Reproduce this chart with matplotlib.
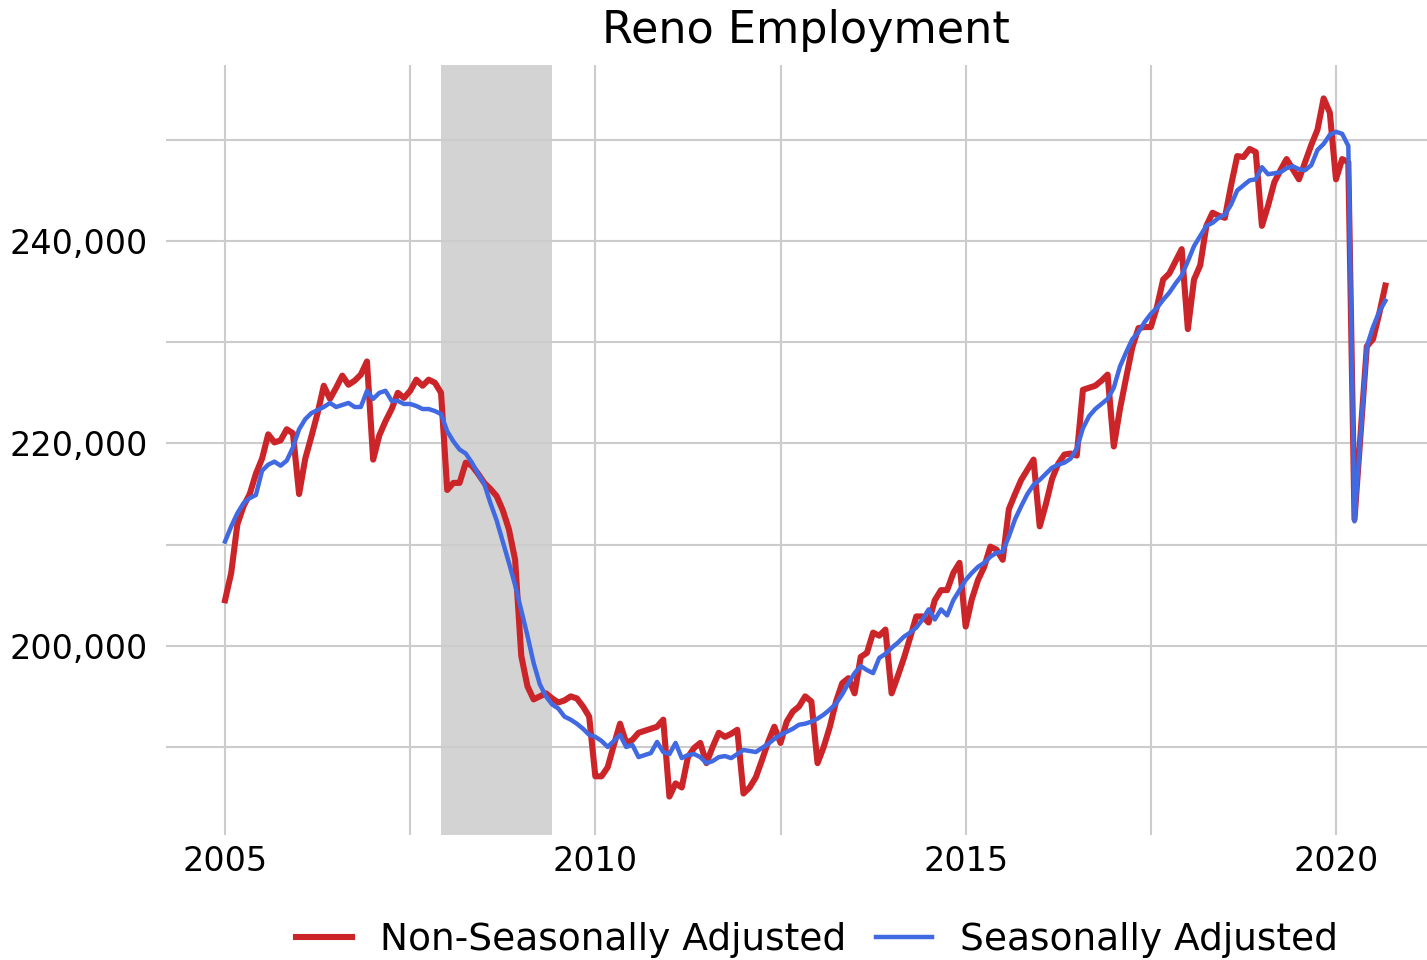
import matplotlib
matplotlib.use("Agg")
import matplotlib.pyplot as plt
from matplotlib.ticker import FuncFormatter
import numpy as np
import pandas as pd

# monthly employment, thousands (Jan 2005 - Sep 2020)
nsa_k = [
    204.5, 207.2, 212.0, 213.8, 215.0, 217.0, 218.5, 220.9, 220.1, 220.3, 221.4, 221.0,  # 2005
    215.0, 218.5, 220.7, 223.0, 225.7, 224.4, 225.5, 226.7, 225.8, 226.2, 226.8, 228.1,  # 2006
    218.4, 220.8, 222.2, 223.4, 225.0, 224.5, 225.2, 226.3, 225.7, 226.3, 226.0, 225.0,  # 2007
    215.4, 216.1, 216.1, 218.1, 217.8, 217.0, 216.1, 215.5, 214.8, 213.4, 211.5, 208.5,  # 2008
    199.0, 196.0, 194.7, 195.0, 195.3, 194.8, 194.4, 194.6, 195.0, 194.8, 194.0, 193.0,  # 2009
    187.1, 187.1, 188.0, 190.2, 192.3, 190.4, 190.7, 191.4, 191.6, 191.8, 192.0, 192.7,  # 2010
    185.1, 186.4, 186.0, 189.0, 189.9, 190.4, 188.4, 190.0, 191.4, 191.0, 191.3, 191.7,  # 2011
    185.4, 186.0, 187.0, 188.7, 190.5, 192.0, 190.4, 192.5, 193.5, 194.0, 195.0, 194.5,  # 2012
    188.4, 190.0, 192.0, 194.5, 196.3, 196.8, 195.3, 198.9, 199.3, 201.3, 201.0, 201.6,  # 2013
    195.3, 197.0, 198.8, 200.8, 202.9, 202.9, 202.3, 204.5, 205.5, 205.5, 207.2, 208.2,  # 2014
    201.9, 204.6, 206.5, 207.8, 209.8, 209.5, 208.5, 213.5, 215.0, 216.4, 217.4, 218.4,  # 2015
    211.8, 214.0, 216.5, 218.0, 218.9, 219.0, 218.8, 225.3, 225.5, 225.7, 226.2, 226.8,  # 2016
    219.7, 223.4, 226.5, 229.5, 231.4, 231.5, 231.5, 233.5, 236.2, 236.8, 238.0, 239.2,  # 2017
    231.3, 236.2, 237.6, 241.5, 242.8, 242.5, 242.3, 245.5, 248.4, 248.3, 249.1, 248.8,  # 2018
    241.5, 243.5, 245.8, 247.0, 248.1, 247.1, 246.1, 247.8, 249.5, 251.0, 254.1, 252.7,  # 2019
    246.1, 248.1, 247.8, 212.5, 221.0, 229.6, 230.3, 232.8, 235.6,                       # 2020
]
sa_k = [
    210.3, 211.8, 213.1, 214.1, 214.6, 214.9, 217.3, 217.9, 218.2, 217.8, 218.3, 219.6,  # 2005
    221.4, 222.4, 223.0, 223.3, 223.6, 224.0, 223.6, 223.8, 224.0, 223.6, 223.6, 225.2,  # 2006
    224.4, 225.0, 225.2, 224.2, 224.2, 223.9, 223.9, 223.7, 223.4, 223.4, 223.2, 222.9,  # 2007
    221.2, 220.2, 219.4, 219.0, 218.1, 217.0, 216.0, 214.1, 212.4, 210.3, 208.2, 206.0,  # 2008
    203.5, 201.0, 198.3, 196.2, 195.0, 194.2, 193.8, 193.0, 192.7, 192.3, 191.8, 191.2,  # 2009
    191.0, 190.6, 190.0, 190.6, 191.2, 190.0, 190.2, 189.0, 189.2, 189.4, 190.5, 189.5,  # 2010
    189.3, 190.4, 188.9, 189.2, 189.3, 189.0, 188.4, 188.6, 189.0, 189.1, 188.9, 189.3,  # 2011
    189.7, 189.6, 189.5, 189.9, 190.3, 190.8, 191.2, 191.5, 191.8, 192.2, 192.3, 192.5,  # 2012
    192.8, 193.2, 193.7, 194.3, 195.2, 196.3, 197.3, 198.0, 197.6, 197.3, 198.8, 199.2,  # 2013
    199.8, 200.3, 200.9, 201.3, 201.8, 202.6, 203.6, 202.6, 203.6, 203.0, 204.5, 205.5,  # 2014
    206.5, 207.2, 207.8, 208.2, 208.8, 209.2, 209.3, 210.8, 212.5, 213.8, 215.0, 215.9,  # 2015
    216.4, 217.0, 217.6, 217.9, 218.1, 218.5, 219.5, 221.5, 222.7, 223.4, 223.9, 224.4,  # 2016
    225.5, 227.6, 229.0, 230.3, 231.0, 232.0, 232.8, 233.4, 234.2, 234.9, 235.8, 236.6,  # 2017
    238.0, 239.5, 240.5, 241.5, 241.8, 242.3, 242.6, 243.6, 245.0, 245.5, 246.0, 246.1,  # 2018
    247.3, 246.6, 246.7, 246.8, 247.2, 247.4, 247.1, 247.0, 247.5, 249.0, 249.6, 250.5,  # 2019
    250.8, 250.6, 249.4, 212.3, 221.0, 229.6, 231.5, 233.0, 234.1,                       # 2020
]
start_month = "2005-01-01"
recession = ("2007-12-01", "2009-06-01")
x_major = [2005, 2010, 2015, 2020]
x_minor = [2007.5, 2012.5, 2017.5]
y_major = [200000, 220000, 240000]
y_minor = [190000, 210000, 230000, 250000]


def decimal_year(d):
    d = pd.DatetimeIndex(d)
    return d.year + (d.month - 1) / 12


dates = pd.date_range(start_month, periods=len(nsa_k), freq="MS")
x = decimal_year(dates)
nsa = np.array(nsa_k) * 1000
sa = np.array(sa_k) * 1000
rec_x = decimal_year(list(recession))

fig = plt.figure(figsize=(14.27, 9.6), dpi=100)
ax = fig.add_axes([166 / 1427, 1 - 835 / 960, 1 - 166 / 1427, (835 - 65) / 960])

ax.axvspan(rec_x[0], rec_x[1], color="#d3d3d3", zorder=0.2, lw=0)
ax.plot(x, nsa, color="#cc2529", lw=4.4, label="Non-Seasonally Adjusted", zorder=3)
ax.plot(x, sa, color="#4169e1", lw=3.2, label="Seasonally Adjusted", zorder=4)

ax.set_xlim(2004.203, 2021.229)
ax.set_ylim(181300, 257400)
ax.set_xticks(x_major)
ax.set_xticks(x_minor, minor=True)
ax.set_yticks(y_major)
ax.set_yticks(y_minor, minor=True)
ax.yaxis.set_major_formatter(FuncFormatter(lambda v, p: f"{v:,.0f}"))
ax.set_axisbelow(True)
ax.grid(True, which="both", color="#cccccc", lw=1.5)
ax.tick_params(which="both", length=0)
ax.tick_params(axis="y", labelsize=24, pad=13)
ax.tick_params(axis="x", labelsize=24, pad=7)
for s in ax.spines.values():
    s.set_visible(False)

fig.text(806 / 1427, 1 - 43 / 960, "Reno Employment", fontsize=32,
         ha="center", va="baseline")

fig.legend(loc="center", bbox_to_anchor=(817 / 1427, 1 - 940 / 960), ncol=2,
           frameon=False, fontsize=27, handlelength=1.5, handletextpad=0.75,
           columnspacing=0.8, borderaxespad=0)

fig.savefig("out.png", dpi=100)
